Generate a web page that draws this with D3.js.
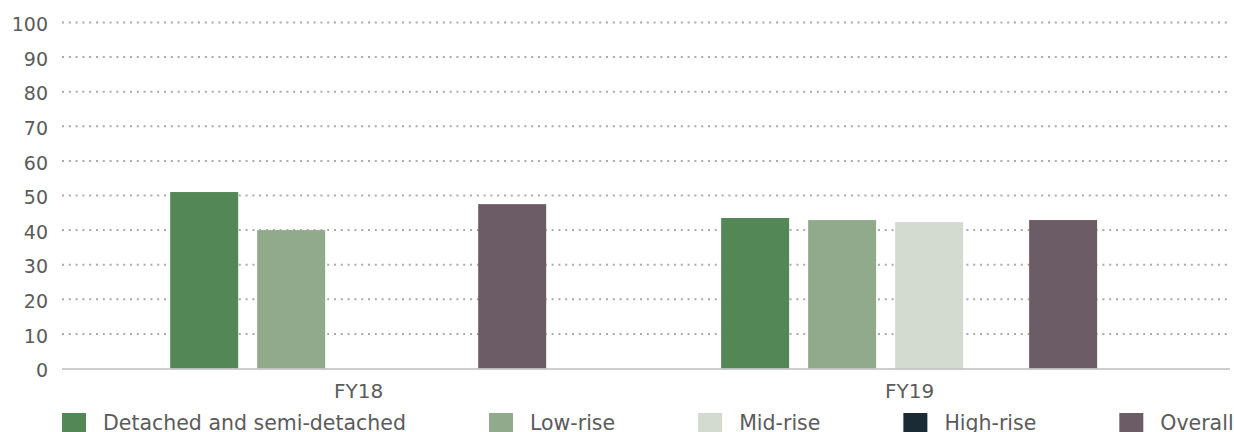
<!DOCTYPE html>
<html>
<head>
<meta charset="utf-8">
<script src="https://cdn.jsdelivr.net/npm/d3@7"></script>
<style>
  html, body { margin: 0; padding: 0; background: #ffffff; }
  svg { display: block; font-family: "DejaVu Sans", sans-serif; }
</style>
</head>
<body>
<svg id="chart" width="1234" height="432"></svg>
<script>
// Categories (financial years) and series
const categories = ["FY18", "FY19"];
const dwellingTypes = ["Detached and semi-detached", "Low-rise", "Mid-rise", "High-rise"];
const overallName = "Overall";
const seriesColors = ["#538856", "#91aa8b", "#d3dbd0", "#1a2b36", "#6b5c66"];

// Values per series, one entry per category (null = no bar)
const detached = [51.0, 43.5];
const lowRise = [40.0, 42.9];
const midRise = [null, 42.3];
const highRise = [null, null];
const overall = [47.5, 42.9];

const yTicks = [0, 10, 20, 30, 40, 50, 60, 70, 80, 90, 100];

const typeValues = [detached, lowRise, midRise, highRise];
const seriesNames = dwellingTypes.concat([overallName]);

const svg = d3.select("#chart");
const plotLeft = 62, plotRight = 1230, plotTop = 22.5, plotBottom = 368.5;
const groupHalf = 188;
const textColor = "#5b5b5b";

const y = d3.scaleLinear().domain([0, 100]).range([plotBottom, plotTop]);

// Category centres
const x0 = d3.scalePoint().domain(categories).range([plotLeft, plotRight]).padding(0.56).align(0.48);
// Dwelling-type slots from the left edge of each group; the overall bar closes the group on the right
const x1 = d3.scaleBand().domain(dwellingTypes).range([-groupHalf, 141]).paddingInner(0.2184);
const overallX = groupHalf - x1.bandwidth();

// Tick labels
const yAxis = d3.axisLeft(y).tickValues(yTicks).tickSize(0).tickPadding(0);
const gy = svg.append("g").attr("transform", `translate(48,0)`).call(yAxis);
gy.select(".domain").remove();
gy.selectAll("text")
  .attr("x", 0)
  .attr("dy", "0.43em")
  .attr("fill", textColor)
  .style("font-size", "19px")
  .style("font-family", "'DejaVu Sans', sans-serif");

// Dotted gridlines
svg.append("g").selectAll("line")
  .data(yTicks.filter(d => d !== 0))
  .join("line")
  .attr("x1", plotLeft).attr("x2", plotRight)
  .attr("y1", d => y(d)).attr("y2", d => y(d))
  .attr("stroke", "#ababab")
  .attr("stroke-width", 2)
  .attr("stroke-dasharray", "2 4.8");

// Bars
const rows = [];
categories.forEach((c, ci) => {
  dwellingTypes.forEach((s, si) => {
    const v = typeValues[si][ci];
    if (v !== null && v !== undefined) {
      rows.push({ category: c, offset: x1(s), color: seriesColors[si], value: v });
    }
  });
  if (overall[ci] !== null) {
    rows.push({ category: c, offset: overallX, color: seriesColors[4], value: overall[ci] });
  }
});

svg.append("g").selectAll("rect")
  .data(rows)
  .join("rect")
  .attr("x", d => x0(d.category) + d.offset)
  .attr("y", d => y(d.value))
  .attr("width", x1.bandwidth())
  .attr("height", d => y(0) - y(d.value))
  .attr("fill", d => d.color);

// Baseline
svg.append("line")
  .attr("x1", plotLeft).attr("x2", plotRight)
  .attr("y1", y(0) + 0.5).attr("y2", y(0) + 0.5)
  .attr("stroke", "#bdbdbd")
  .attr("stroke-width", 1.5);

// Category labels
const xAxis = d3.axisBottom(x0).tickSize(0).tickPadding(0);
const gx = svg.append("g").attr("transform", `translate(0,${plotBottom})`).call(xAxis);
gx.select(".domain").remove();
gx.selectAll("text")
  .attr("y", 29)
  .attr("dy", 0)
  .attr("fill", textColor)
  .style("font-size", "20px")
  .style("font-family", "'DejaVu Sans', sans-serif");

// Legend laid out left to right
const legend = svg.append("g");
let lx = 62;
seriesNames.forEach((s, i) => {
  const item = legend.append("g");
  item.append("rect")
    .attr("x", lx).attr("y", 413)
    .attr("width", 24).attr("height", 24)
    .attr("fill", seriesColors[i]);
  const t = item.append("text")
    .attr("x", lx + 41).attr("y", 430)
    .attr("fill", textColor)
    .style("font-size", "20.5px")
    .text(s);
  lx = lx + 41 + t.node().getComputedTextLength() + 83;
});
</script>
</body>
</html>
